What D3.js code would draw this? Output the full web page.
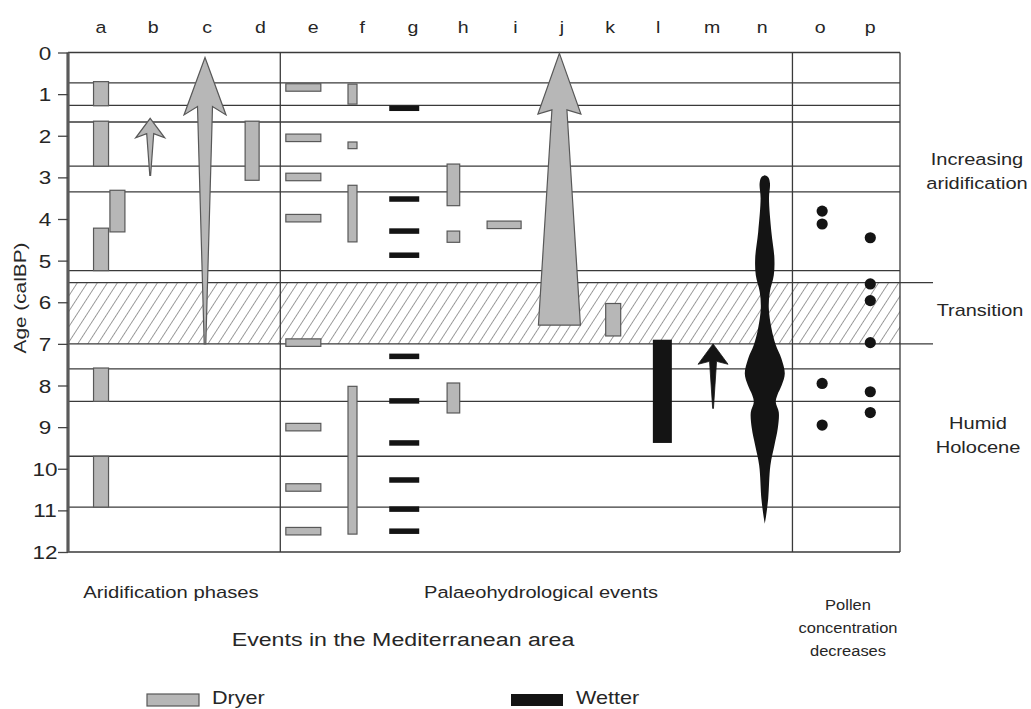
<!DOCTYPE html>
<html>
<head>
<meta charset="utf-8">
<script src="https://cdn.jsdelivr.net/npm/d3@7"></script>
<style>
  html, body { margin: 0; padding: 0; background: #fff; }
  svg { display: block; font-family: "Liberation Sans", Arial, sans-serif; }
</style>
</head>
<body>
<svg id="chart" width="1031" height="709"></svg>
<script>
// ---------------- DATA ----------------
const columns = ["a","b","c","d","e","f","g","h","i","j","k","l","m","n","o","p"];
// label positions in column units
const columnLabelPos = [0, 1.02, 2.07, 3.11, 4.14, 5.1, 6.09, 7.07, 8.09, 9.0, 9.94, 10.88, 11.93, 12.91, 14.04, 15.02];
const yTicks = [0,1,2,3,4,5,6,7,8,9,10,11,12];
const gridAges = [0.73, 1.27, 1.67, 2.73, 3.35, 5.24, 7.6, 8.38, 9.7, 10.92];
const transitionAges = [5.53, 7.0];
const dividerCols = [3.5, 13.5];

// vertical "dryer" bars: column position (index), from / to age
const dryerBars = [
  {group:"a", col:0,    from:0.70, to:1.28},
  {group:"a", col:0,    from:1.65, to:2.73},
  {group:"a", col:0,    from:4.22, to:5.24},
  {group:"a", col:0,    from:7.58, to:8.38},
  {group:"a", col:0,    from:9.70, to:10.92},
  {group:"a", col:0.32, from:3.31, to:4.31},
  {group:"d", col:2.95, from:1.65, to:3.07},
  {group:"f", col:4.91, from:0.76, to:1.24},
  {group:"f", col:4.91, from:2.15, to:2.31},
  {group:"f", col:4.91, from:3.19, to:4.55},
  {group:"f", col:4.91, from:8.02, to:11.57},
  {group:"h", col:6.88, from:2.68, to:3.68},
  {group:"h", col:6.88, from:4.29, to:4.56},
  {group:"h", col:6.88, from:7.94, to:8.66},
  {group:"k", col:10.0, from:6.03, to:6.81}
];
// short horizontal "dryer" dashes (event ages)
const dryerDashesE = [0.84, 2.05, 2.99, 3.98, 6.97, 9.0, 10.45, 11.5];
const dryerDashesI = [4.14];
// short horizontal "wetter" dashes (column g)
const wetterDashesG = [1.34, 3.52, 4.29, 4.87, 7.3, 8.37, 9.38, 10.27, 10.97, 11.5];
// wetter bar (column l)
const wetterBars = [{group:"l", col:10.96, from:6.9, to:9.38}];

// arrows: tip age, wing age, neck age, tail age
const dryerArrows = [
  {name:"b", col:0.96, tip:1.58, wing:2.05, neck:1.95, tail:2.95},
  {name:"c", col:2.03, tip:0.12, wing:1.50, neck:1.30, tail:7.0},
  {name:"j", col:8.95, tip:0.02, wing:1.48, neck:1.38, tail:6.55}
];
const wetterArrows = [
  {name:"m", col:11.95, tip:7.0, wing:7.49, neck:7.42, tail:8.55}
];

// column n profile: age, relative half-width
const nProfile = [
  [2.95,0],[3.0,0.18],[3.15,0.26],[3.5,0.21],[4.31,0.33],[4.94,0.48],[5.35,0.45],
  [5.76,0.25],[6.14,0.2],[6.62,0.33],[7.03,0.55],[7.35,0.83],[7.71,1.0],[7.99,0.85],
  [8.23,0.63],[8.4,0.55],[8.64,0.7],[9.03,0.65],[9.44,0.48],[9.92,0.28],[10.72,0.17],
  [11.15,0.06],[11.32,0]
];
const nCol = 12.96;

// pollen concentration decreases
const pollenO = [3.81, 4.12, 7.95, 8.95];
const pollenP = [4.45, 5.56, 5.96, 6.97, 8.15, 8.65];
const oCol = 14.08, pCol = 15.02;

// ---------------- STYLE ----------------
const GRAY = "#b7b7b7", GRAY_STROKE = "#585858", BLACK = "#141414", LINE = "#3a3a3a", TEXT = "#262626";
const barWidth = {a:15, d:14, f:9, h:12.6, k:15, l:19};
const arrowShape = {
  b:{head:14.5, shaftTop:3.5, shaftBottom:0.4},
  c:{head:21,   shaftTop:7.5, shaftBottom:0.8},
  j:{head:21.5, shaftTop:7.5, shaftBottom:21},
  m:{head:15,   shaftTop:3.5, shaftBottom:0.4}
};

// ---------------- SCALES ----------------
const svg = d3.select("#chart");
const y = d3.scaleLinear().domain([0, 12]).range([52.5, 552]);
const x = d3.scaleLinear().domain([-0.645, 15.6]).range([68, 900]);
const nw = d3.scaleLinear().domain([0, 1]).range([0, 20]);
const X0 = x.range()[0], X1 = x.range()[1];

// stretched text helper
function stxt(parent, str, tx, ty, size, sx, anchor) {
  return parent.append("text")
    .attr("transform", `translate(${tx},${ty}) scale(${sx},1)`)
    .attr("text-anchor", anchor || "middle")
    .attr("font-size", size).attr("fill", TEXT).text(str);
}

// hatch pattern
const defs = svg.append("defs");
const pat = defs.append("pattern").attr("id","hatch").attr("patternUnits","userSpaceOnUse")
  .attr("width", 8.4).attr("height", 20).attr("patternTransform","rotate(33)");
pat.append("line").attr("x1",0).attr("y1",-5).attr("x2",0).attr("y2",25)
  .attr("stroke","#3c3c3c").attr("stroke-width",1.0);

// hatched transition band
svg.append("rect").attr("x", X0).attr("y", y(transitionAges[0]))
  .attr("width", X1 - X0).attr("height", y(transitionAges[1]) - y(transitionAges[0]))
  .attr("fill", "url(#hatch)");

// grid lines
svg.append("g").selectAll("line").data(gridAges).join("line")
  .attr("x1", X0).attr("x2", X1).attr("y1", d => y(d)).attr("y2", d => y(d))
  .attr("stroke", LINE).attr("stroke-width", 1.3);
svg.append("g").selectAll("line").data(transitionAges).join("line")
  .attr("x1", X0).attr("x2", X1 + 33).attr("y1", d => y(d)).attr("y2", d => y(d))
  .attr("stroke", LINE).attr("stroke-width", 1.3);
// frame top/bottom/right
svg.append("g").selectAll("line").data([0, 12]).join("line")
  .attr("x1", X0).attr("x2", X1).attr("y1", d => y(d)).attr("y2", d => y(d))
  .attr("stroke", LINE).attr("stroke-width", 1.3);
svg.append("line").attr("x1", X1).attr("x2", X1).attr("y1", y(0)).attr("y2", y(12))
  .attr("stroke", LINE).attr("stroke-width", 1.3);
svg.append("g").selectAll("line").data(dividerCols).join("line")
  .attr("x1", d => x(d)).attr("x2", d => x(d)).attr("y1", y(0)).attr("y2", y(12))
  .attr("stroke", LINE).attr("stroke-width", 1.3);

// y axis
const yAxis = svg.append("g").attr("transform", `translate(${X0},0)`)
  .call(d3.axisLeft(y).tickValues(yTicks).tickFormat(d3.format("d")).tickSize(10).tickPadding(5));
yAxis.select(".domain").attr("stroke", "#5a5a5a").attr("stroke-width", 3.2).attr("d", `M0,${y(0)}V${y(12)}`);
yAxis.selectAll(".tick line").attr("stroke", "#444").attr("stroke-width", 1.3);
yAxis.selectAll(".tick text")
  .attr("x", null).attr("dy", null)
  .attr("transform", "translate(-23,6.5) scale(1.25,1)")
  .attr("text-anchor", "middle")
  .attr("font-size", 18).attr("fill", TEXT)
  .attr("font-family", "'Liberation Sans', Arial, sans-serif");

svg.append("text").attr("transform", `translate(26,298) rotate(-90) scale(1.3,1)`)
  .attr("text-anchor","middle").attr("font-size",16).attr("fill",TEXT).text("Age (calBP)");

// column labels
const colG = svg.append("g");
columns.forEach((c, i) => stxt(colG, c, x(columnLabelPos[i]), 33, 17, 1.15));

// dryer vertical bars
svg.append("g").selectAll("rect").data(dryerBars).join("rect")
  .attr("x", d => x(d.col) - barWidth[d.group]/2).attr("width", d => barWidth[d.group])
  .attr("y", d => y(d.from)).attr("height", d => y(d.to) - y(d.from))
  .attr("fill", GRAY).attr("stroke", GRAY_STROKE).attr("stroke-width", 1.2);

// dashes
function dashes(data, col, w, h, fill, stroke) {
  svg.append("g").selectAll("rect").data(data).join("rect")
    .attr("x", x(col) - w/2).attr("width", w)
    .attr("y", d => y(d) - h/2).attr("height", h)
    .attr("fill", fill).attr("stroke", stroke).attr("stroke-width", stroke === "none" ? 0 : 1.2);
}
dashes(dryerDashesE, 3.95, 35, 7.5, GRAY, GRAY_STROKE);
dashes(dryerDashesI, 7.87, 34, 7.5, GRAY, GRAY_STROKE);
dashes(wetterDashesG, 5.92, 30, 5.5, BLACK, "none");

// wetter bar
svg.append("g").selectAll("rect").data(wetterBars).join("rect")
  .attr("x", d => x(d.col) - barWidth[d.group]/2).attr("width", d => barWidth[d.group])
  .attr("y", d => y(d.from)).attr("height", d => y(d.to) - y(d.from))
  .attr("fill", BLACK);

// arrows
function arrowPath(d) {
  const s = arrowShape[d.name], cx = x(d.col);
  const pts = [
    [cx, y(d.tip)],
    [cx + s.head, y(d.wing)],
    [cx + s.shaftTop, y(d.neck)],
    [cx + s.shaftBottom, y(d.tail)],
    [cx - s.shaftBottom, y(d.tail)],
    [cx - s.shaftTop, y(d.neck)],
    [cx - s.head, y(d.wing)]
  ];
  return d3.line()(pts) + "Z";
}
svg.append("g").selectAll("path").data(dryerArrows).join("path")
  .attr("d", arrowPath).attr("fill", GRAY).attr("stroke", GRAY_STROKE)
  .attr("stroke-width", 1.2).attr("stroke-linejoin","miter");
svg.append("g").selectAll("path").data(wetterArrows).join("path")
  .attr("d", arrowPath).attr("fill", BLACK).attr("stroke", BLACK).attr("stroke-width", 0.8);

// column n shape
const nArea = d3.area()
  .y(d => y(d[0]))
  .x0(d => x(nCol) - nw(d[1]))
  .x1(d => x(nCol) + nw(d[1]))
  .curve(d3.curveCatmullRom);
svg.append("path").datum(nProfile).attr("d", nArea).attr("fill", BLACK);

// pollen dots
svg.append("g").selectAll("circle").data(pollenO).join("circle")
  .attr("cx", x(oCol)).attr("cy", d => y(d)).attr("r", 5.6).attr("fill", BLACK);
svg.append("g").selectAll("circle").data(pollenP).join("circle")
  .attr("cx", x(pCol)).attr("cy", d => y(d)).attr("r", 5.6).attr("fill", BLACK);

// text labels
const lab = svg.append("g");
function label(lines, cx, y0, dy, size, sx) {
  lines.forEach((s, i) => stxt(lab, s, cx, y0 + i*dy, size, sx));
}
label(["Increasing", "aridification"], 977, 165, 24, 17, 1.18);
label(["Transition"], 980, 316, 24, 17, 1.17);
label(["Humid", "Holocene"], 978, 429, 24, 17, 1.18);

label(["Aridification phases"], 171, 598, 23, 17, 1.19);
label(["Palaeohydrological events"], 541, 598, 23, 17, 1.18);
label(["Pollen", "concentration", "decreases"], 848, 610, 23, 15, 1.1);
label(["Events in the Mediterranean area"], 403, 646, 23, 19, 1.22);

// legend
svg.append("rect").attr("x", 147).attr("y", 694).attr("width", 52).attr("height", 12)
  .attr("fill", GRAY).attr("stroke", GRAY_STROKE).attr("stroke-width", 1.2);
stxt(lab, "Dryer", 212, 704, 18, 1.2, "start");
svg.append("rect").attr("x", 511).attr("y", 694).attr("width", 52).attr("height", 12).attr("fill", BLACK);
stxt(lab, "Wetter", 576, 704, 18, 1.2, "start");
</script>
</body>
</html>
